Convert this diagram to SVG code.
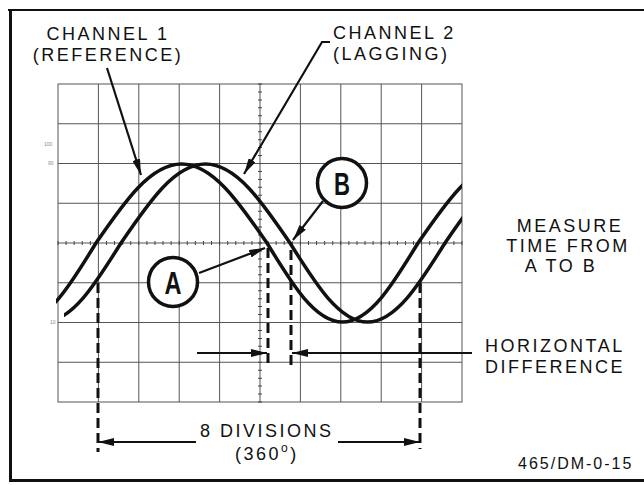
<svg xmlns="http://www.w3.org/2000/svg" width="644" height="485" viewBox="0 0 644 485">
<style>
 .t{font-family:"Liberation Sans",Arial,sans-serif;font-size:18px;letter-spacing:2.5px;fill:#111}
 .tiny{font-family:"Liberation Sans",Arial,sans-serif;font-size:5px;fill:#888}
 .g{stroke:#555;stroke-width:1;fill:none}
 .tick{stroke:#444;fill:none}
 .tr{stroke:#111;stroke-width:3.5;fill:none;stroke-linejoin:round}
 .ld{stroke:#111;stroke-width:2.2;fill:none}
 .dash{stroke:#111;stroke-width:3;stroke-dasharray:10 5;fill:none}
 .circ{fill:#fff;stroke:#111;stroke-width:3.5}
 .big{font-family:"Liberation Sans",Arial,sans-serif;font-weight:bold;font-size:32px;fill:#111}
 .frame{stroke:#111;fill:none}
</style>
<defs>
 <marker id="ah" viewBox="0 0 16 8" refX="16" refY="4" markerWidth="16" markerHeight="8" markerUnits="userSpaceOnUse" orient="auto"><path d="M0,0 L16,4 L0,8 Z" fill="#111"/></marker>
 <clipPath id="c1"><rect x="56" y="60" width="406" height="300"/></clipPath>
 <clipPath id="c2"><rect x="64" y="60" width="398" height="300"/></clipPath>
</defs>
<rect width="644" height="485" fill="#fff"/>

<g id="frame">
 <line class="frame" x1="8" y1="10" x2="644" y2="10" stroke-width="2"/>
 <line class="frame" x1="10.5" y1="9" x2="10.5" y2="482" stroke-width="3"/>
 <line class="frame" x1="9" y1="480.5" x2="644" y2="480.5" stroke-width="3"/>
</g>

<g id="graticule">
 <rect class="g" x="58" y="84" width="404" height="318"/>
 <path class="g" d="M98.4,84V402M138.8,84V402M179.2,84V402M219.6,84V402M260,84V402M300.4,84V402M340.8,84V402M381.2,84V402M421.6,84V402
 M58,123.75H462M58,163.5H462M58,203.25H462M58,243H462M58,282.75H462M58,322.5H462M58,362.25H462"/>
 <line class="tick" x1="57.5" y1="243" x2="462.5" y2="243" stroke-width="4" stroke-dasharray="1 7.08"/>
 <line class="tick" x1="260" y1="83.5" x2="260" y2="402.5" stroke-width="4" stroke-dasharray="1 6.95"/>
 <text class="tiny" x="44" y="146">100</text>
 <text class="tiny" x="48" y="165">90</text>
 <text class="tiny" x="50" y="324">10</text>
</g>

<g id="channel1-trace">
 <path class="tr" clip-path="url(#c1)" d="M-55,243 C-29.76,284.5 -6.83,322 20.5,322 C47.83,322 70.76,284.5 96,243 C124.58,201.5 150.55,164 181.5,164 C212.45,164 238.42,201.5 267,243 C292.24,284.5 315.17,322 342.5,322 C369.83,322 392.76,284.5 418,243 C446.58,201.5 472.55,164 503.5,164"/>
</g>
<g id="channel2-trace">
 <path class="tr" clip-path="url(#c2)" d="M-34,243 C-8.09,284.5 15.45,322 43.5,322 C71.56,322 95.09,284.5 121,243 C149.25,201.5 174.91,164 205.5,164 C236.09,164 261.75,201.5 290,243 C315.91,284.5 339.45,322 367.5,322 C395.56,322 419.09,284.5 445,243 C473.4,201.5 499.2,164 530,164"/>
</g>

<g id="connectors">
 <path class="ld" d="M107,68 L141,175" marker-end="url(#ah)"/>
 <path class="ld" d="M330,42 L322,42 L244,174" marker-end="url(#ah)"/>
 <path class="ld" d="M199,273 L265,248" marker-end="url(#ah)"/>
 <path class="ld" d="M323,201 L293,240" marker-end="url(#ah)"/>
 <line class="dash" x1="268" y1="248" x2="268" y2="366"/>
 <line class="dash" x1="291" y1="250" x2="291" y2="366"/>
 <line class="dash" x1="98" y1="283" x2="98" y2="452"/>
 <line class="dash" x1="420" y1="283" x2="420" y2="449"/>
 <path class="ld" d="M197,353 L267,353" marker-end="url(#ah)"/>
 <path class="ld" d="M472,353 L292,353" marker-end="url(#ah)"/>
 <path class="ld" d="M196,442 L98,442" marker-end="url(#ah)"/>
 <path class="ld" d="M338,442 L420,442" marker-end="url(#ah)"/>
</g>

<g id="point-A">
 <circle class="circ" cx="173" cy="282" r="24.5"/>
 <text class="big" x="173" y="293.5" text-anchor="middle" textLength="17" lengthAdjust="spacingAndGlyphs">A</text>
</g>
<g id="point-B">
 <circle class="circ" cx="342" cy="183" r="24.5"/>
 <text class="big" x="342" y="194.5" text-anchor="middle" textLength="16" lengthAdjust="spacingAndGlyphs">B</text>
</g>

<g id="label-channel1">
 <text class="t" x="108" y="40" text-anchor="middle">CHANNEL 1</text>
 <text class="t" x="108" y="61" text-anchor="middle">(REFERENCE)</text>
</g>
<g id="label-channel2">
 <text class="t" x="333" y="39">CHANNEL 2</text>
 <text class="t" x="333" y="60">(LAGGING)</text>
</g>
<g id="label-measure">
 <text class="t" x="570" y="232" text-anchor="middle">MEASURE</text>
 <text class="t" x="568" y="252" text-anchor="middle">TIME FROM</text>
 <text class="t" x="561" y="272" text-anchor="middle">A TO B</text>
</g>
<g id="label-horizontal">
 <text class="t" x="485" y="352">HORIZONTAL</text>
 <text class="t" x="485" y="373">DIFFERENCE</text>
</g>
<g id="label-divisions">
 <text class="t" x="200" y="437">8 DIVISIONS</text>
 <text class="t" x="235" y="460">(360<tspan font-size="12" dy="-8">o</tspan><tspan dy="8">)</tspan></text>
</g>
<g id="figure-id">
 <text class="t" x="518" y="469" style="font-size:16px;letter-spacing:2px">465/DM-0-15</text>
</g>
</svg>
